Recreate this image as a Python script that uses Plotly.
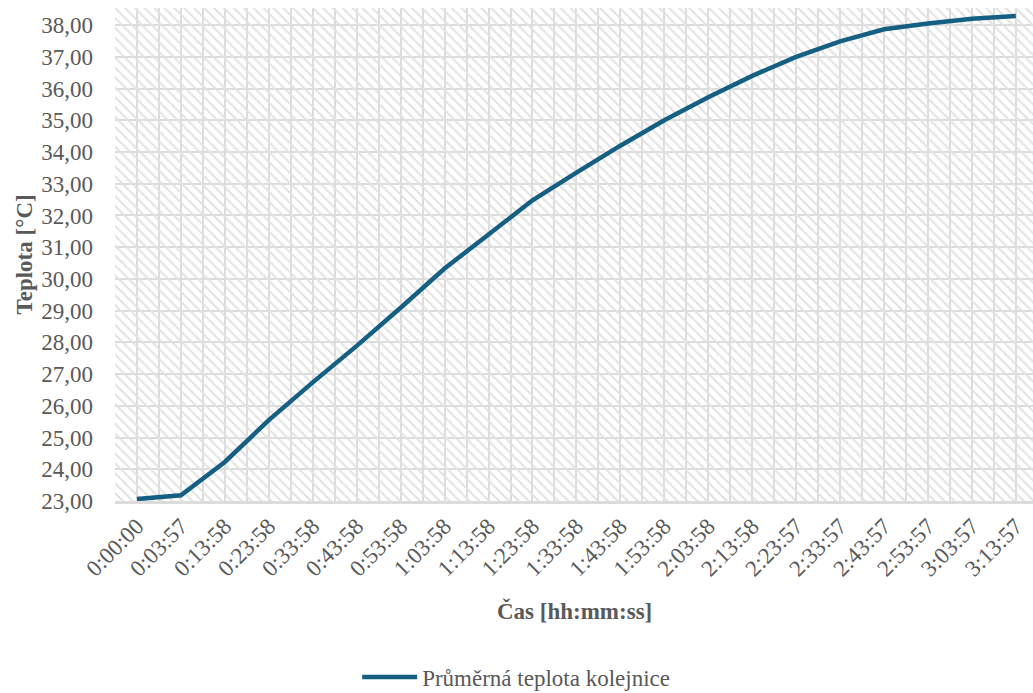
import plotly.graph_objects as go

# ---- data ----
time_labels = ["0:00:00", "0:03:57", "0:13:58", "0:23:58", "0:33:58", "0:43:58",
               "0:53:58", "1:03:58", "1:13:58", "1:23:58", "1:33:58", "1:43:58",
               "1:53:58", "2:03:58", "2:13:58", "2:23:57", "2:33:57", "2:43:57",
               "2:53:57", "3:03:57", "3:13:57"]
avg_rail_temp = [23.06, 23.18, 24.23, 25.55, 26.74, 27.89, 29.09, 30.33, 31.40,
                 32.48, 33.35, 34.20, 35.00, 35.73, 36.40, 37.00, 37.49, 37.87,
                 38.05, 38.20, 38.29]
series_name = "Průměrná teplota kolejnice"
x_title = "Čas [hh:mm:ss]"
y_title = "Teplota [°C]"

# ---- styling ----
FONT = "Liberation Serif, Times New Roman, serif"
TXT = "#595959"
GRID = "#dcdcdc"
LINE = "#156082"

x_idx = list(range(len(time_labels)))
x_range = [-0.5, len(time_labels) - 1 + 0.39]
y_range = [23, 38.54]

fig = go.Figure()

# hatched plot-area background (covers the axis ranges)
fig.add_trace(go.Bar(
    x=[(x_range[0] + x_range[1]) / 2],
    y=[y_range[1] - y_range[0]],
    base=[y_range[0]],
    width=[x_range[1] - x_range[0]],
    marker=dict(color="rgba(0,0,0,0)", line=dict(width=0),
                pattern=dict(shape="\\", size=7, solidity=0.28,
                             fgcolor="#e2e2e2", bgcolor="rgba(255,255,255,0)",
                             fgopacity=1, fillmode="overlay")),
    hoverinfo="skip", showlegend=False,
))

fig.add_trace(go.Scatter(
    x=x_idx, y=avg_rail_temp, mode="lines", name=series_name,
    line=dict(color=LINE, width=4.5),
))

fig.update_layout(
    width=1033, height=693,
    margin=dict(l=115, r=0, t=8, b=192, autoexpand=False),
    paper_bgcolor="white", plot_bgcolor="white",
    separators=", ",
    font=dict(family=FONT, color=TXT, size=23),
    bargap=0,
    showlegend=True,
    legend=dict(orientation="h", x=0.437, xanchor="center",
                yref="container", y=1 - 677 / 693, yanchor="middle",
                font=dict(family=FONT, size=23, color=TXT), itemwidth=55,
                bgcolor="rgba(0,0,0,0)"),
    annotations=[
        dict(text=f"<b>{x_title}</b>", x=0.5, y=0, xref="paper", yref="paper",
             xanchor="center", yanchor="middle", yshift=-110, showarrow=False,
             font=dict(family=FONT, size=23, color=TXT)),
        dict(text=f"<b>{y_title}</b>", x=0, y=0.5, xref="paper", yref="paper",
             xanchor="center", yanchor="middle", xshift=-91, textangle=-90,
             showarrow=False, font=dict(family=FONT, size=23, color=TXT)),
    ],
)

fig.update_xaxes(
    type="linear", range=x_range, tickmode="array", tickvals=x_idx, ticktext=time_labels,
    tickangle=-45, ticks="", ticklabelstandoff=0, automargin=False,
    tickfont=dict(family=FONT, size=23, color=TXT),
    showgrid=True, gridcolor=GRID, gridwidth=1.5,
    minor=dict(tickmode="array", tickvals=[i - 0.5 for i in range(len(time_labels) + 1)],
               showgrid=True, gridcolor=GRID, gridwidth=1.5, ticks=""),
    showline=True, linecolor=GRID, linewidth=2.5, zeroline=False, fixedrange=True,
)
fig.update_yaxes(
    range=y_range, tickmode="linear", tick0=23, dtick=1, tickformat=".2f",
    ticks="", ticklabelstandoff=21, automargin=False,
    tickfont=dict(family=FONT, size=23, color=TXT),
    showgrid=True, gridcolor=GRID, gridwidth=1.5, zeroline=False, showline=False,
    fixedrange=True,
)

fig.write_html("out.html", config={"displayModeBar": False},
               post_script="document.body.style.margin='0';document.body.style.overflow='hidden';")
